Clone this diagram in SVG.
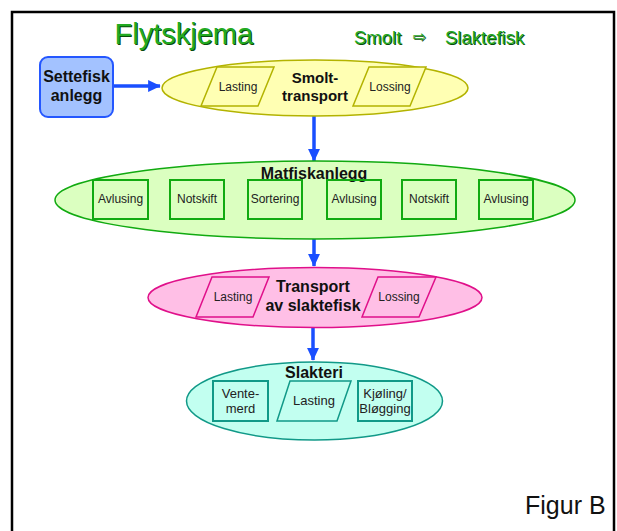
<svg xmlns="http://www.w3.org/2000/svg" width="617" height="531" viewBox="0 0 617 531">
<style>
text{font-family:"Liberation Sans",Arial,sans-serif;}
.b{font-weight:bold;fill:#111;text-anchor:middle;}
.s{font-size:12px;fill:#222;text-anchor:middle;}
.m{font-size:13px;fill:#222;text-anchor:middle;}
.conn{stroke:#1a4fff;stroke-width:3.5;fill:none;}
.ttl{fill:#22aa22;}
.sh{fill:#0a4a0a;}
</style>
<defs>
<marker id="ah" markerWidth="4" markerHeight="4" refX="3.4" refY="2" orient="auto" markerUnits="strokeWidth">
<path d="M0,0.3 L3.6,2 L0,3.7 Z" fill="#1a4fff"/>
</marker>
</defs>
<rect x="12" y="12" width="602" height="530" fill="#fff" stroke="#000" stroke-width="2.5"/>
<g id="title">
<text x="115.5" y="44.5" font-size="29" class="sh">Flytskjema</text>
<text x="114.5" y="43.5" font-size="29" class="ttl">Flytskjema</text>
<text x="355" y="44.5" font-size="18.5" class="sh">Smolt</text>
<text x="354" y="43.5" font-size="18.5" class="ttl">Smolt</text>
<text x="414" y="42.5" font-size="16" class="sh" style="font-family:'DejaVu Sans',sans-serif">⇨</text>
<text x="413" y="41.5" font-size="16" class="ttl" style="font-family:'DejaVu Sans',sans-serif">⇨</text>
<text x="446" y="44.5" font-size="18.5" class="sh">Slaktefisk</text>
<text x="445" y="43.5" font-size="18.5" class="ttl">Slaktefisk</text>
</g>
<g id="connectors">
<line class="conn" x1="113" y1="86" x2="160" y2="86" marker-end="url(#ah)"/>
<line class="conn" x1="314" y1="115" x2="314" y2="161" marker-end="url(#ah)"/>
<line class="conn" x1="314" y1="238" x2="314" y2="266" marker-end="url(#ah)"/>
<line class="conn" x1="313" y1="327" x2="313" y2="360" marker-end="url(#ah)"/>
</g>
<g id="settefisk">
<rect x="40" y="57" width="73" height="60" rx="8" fill="#a3c2ff" stroke="#2457ff" stroke-width="2"/>
<text x="76.5" y="82" font-size="16" class="b">Settefisk</text>
<text x="76.5" y="101" font-size="16" class="b">anlegg</text>
</g>
<g id="smolttransport">
<ellipse cx="315" cy="88" rx="153" ry="28" fill="#ffffb3" stroke="#b3b300" stroke-width="1.5"/>
<polygon points="217,67 274,67 258,106 201,106" fill="#ffffb3" stroke="#b3b300" stroke-width="1.5"/>
<text x="238" y="91" class="s">Lasting</text>
<polygon points="369,67 426,67 410,106 353,106" fill="#ffffb3" stroke="#b3b300" stroke-width="1.5"/>
<text x="390" y="91" class="s">Lossing</text>
<text x="315" y="83" font-size="15" class="b">Smolt-</text>
<text x="315" y="101" font-size="15" class="b">transport</text>
</g>
<g id="matfiskanlegg">
<ellipse cx="315" cy="200" rx="260" ry="39" fill="#dbffc0" stroke="#11aa11" stroke-width="1.5"/>
<text x="314" y="179" font-size="16" class="b">Matfiskanlegg</text>
<g fill="none" stroke="#11aa11" stroke-width="2">
<rect x="93" y="180" width="55" height="39"/>
<rect x="170" y="180" width="54" height="39"/>
<rect x="248" y="180" width="54" height="39"/>
<rect x="327" y="180" width="54" height="39"/>
<rect x="402" y="180" width="54" height="39"/>
<rect x="479" y="180" width="54" height="39"/>
</g>
<text x="120.5" y="203" class="s">Avlusing</text>
<text x="197" y="203" class="s">Notskift</text>
<text x="275" y="203" class="s">Sortering</text>
<text x="354" y="203" class="s">Avlusing</text>
<text x="429" y="203" class="s">Notskift</text>
<text x="506" y="203" class="s">Avlusing</text>
</g>
<g id="transport">
<ellipse cx="315" cy="297.5" rx="167" ry="30" fill="#ffbfe6" stroke="#e0108a" stroke-width="1.5"/>
<polygon points="212,277 269,277 253,317 196,317" fill="#ffbfe6" stroke="#e0108a" stroke-width="1.5"/>
<text x="233" y="301" class="s">Lasting</text>
<polygon points="378,277 436,277 419,317 362,317" fill="#ffbfe6" stroke="#e0108a" stroke-width="1.5"/>
<text x="399" y="301" class="s">Lossing</text>
<text x="313" y="292" font-size="16" class="b">Transport</text>
<text x="313" y="311" font-size="16" class="b">av slaktefisk</text>
</g>
<g id="slakteri">
<ellipse cx="314.5" cy="401" rx="128" ry="39" fill="#c2fff0" stroke="#119988" stroke-width="1.5"/>
<text x="314" y="378" font-size="16" class="b">Slakteri</text>
<rect x="213" y="381" width="55" height="40" fill="none" stroke="#119988" stroke-width="2"/>
<text x="240.5" y="398" class="m">Vente-</text>
<text x="240.5" y="413" class="m">merd</text>
<polygon points="290,381 351,381 337,421 277,421" fill="none" stroke="#119988" stroke-width="1.5"/>
<text x="314" y="405" class="m">Lasting</text>
<rect x="358" y="381" width="54" height="40" fill="none" stroke="#119988" stroke-width="2"/>
<text x="385" y="398" class="m">Kjøling/</text>
<text x="385" y="413" class="m">Bløgging</text>
</g>
<text x="525" y="514" font-size="25" fill="#111">Figur B</text>
</svg>
